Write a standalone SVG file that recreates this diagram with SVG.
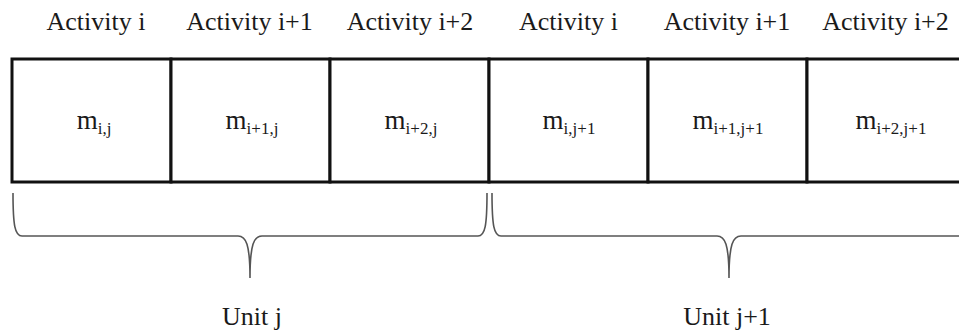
<svg xmlns="http://www.w3.org/2000/svg" width="959" height="335" viewBox="0 0 959 335">
  <style>
    text { font-family: 'Liberation Serif', 'DejaVu Serif', serif; fill: #1a1a1a; text-anchor: middle; }
    .lbl { font-size: 26px; }
    .m { font-size: 27px; }
    .sub { font-size: 17px; }
    .cell { fill: #ffffff; stroke: #111111; stroke-width: 3; }
    .brace { fill: none; stroke: #555555; stroke-width: 1.6; }
  </style>
  <rect x="0" y="0" width="959" height="335" fill="#ffffff"/>

  <g id="header">
    <text class="lbl" x="96" y="30">Activity i</text>
    <text class="lbl" x="249.5" y="30">Activity i+1</text>
    <text class="lbl" x="410" y="30">Activity i+2</text>
    <text class="lbl" x="568.5" y="30">Activity i</text>
    <text class="lbl" x="727" y="30">Activity i+1</text>
    <text class="lbl" x="885.5" y="30">Activity i+2</text>
  </g>

  <g id="cell-i-j">
    <rect class="cell" x="12" y="59" width="159" height="123"/>
    <text class="m" x="94" y="129">m<tspan class="sub" dy="5">i,j</tspan></text>
  </g>
  <g id="cell-i1-j">
    <rect class="cell" x="171" y="59" width="159" height="123"/>
    <text class="m" x="252" y="129">m<tspan class="sub" dy="5">i+1,j</tspan></text>
  </g>
  <g id="cell-i2-j">
    <rect class="cell" x="330" y="59" width="159" height="123"/>
    <text class="m" x="411" y="129">m<tspan class="sub" dy="5">i+2,j</tspan></text>
  </g>
  <g id="cell-i-j1">
    <rect class="cell" x="489" y="59" width="159" height="123"/>
    <text class="m" x="569" y="129">m<tspan class="sub" dy="5">i,j+1</tspan></text>
  </g>
  <g id="cell-i1-j1">
    <rect class="cell" x="648" y="59" width="159" height="123"/>
    <text class="m" x="728" y="129">m<tspan class="sub" dy="5">i+1,j+1</tspan></text>
  </g>
  <g id="cell-i2-j1">
    <rect class="cell" x="807" y="59" width="170" height="123"/>
    <text class="m" x="891" y="129">m<tspan class="sub" dy="5">i+2,j+1</tspan></text>
  </g>

  <g id="connectors">
    <path class="brace" d="M13,193 C13,226 15,236 22,236 L238,236 C246,236 250,244 250,278 C250,244 254,236 262,236 L478,236 C485,236 487,226 487,193"/>
    <path class="brace" d="M492,193 C492,226 494,236 501,236 L717,236 C725,236 729,244 729,278 C729,244 733,236 741,236 L965,236"/>
  </g>

  <g id="unit-j">
    <text class="lbl" x="252" y="325">Unit j</text>
  </g>
  <g id="unit-j1">
    <text class="lbl" x="727" y="325">Unit j+1</text>
  </g>
</svg>
